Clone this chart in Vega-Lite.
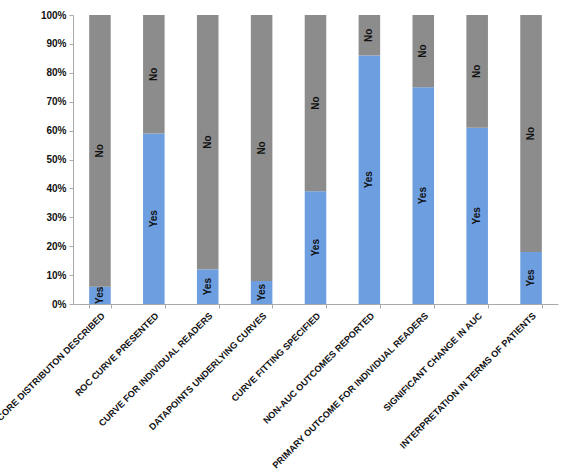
{
  "$schema": "https://vega.github.io/schema/vega-lite/v6.json",
  "width": 485,
  "height": 289,
  "autosize": {"type": "none"},
  "padding": {"left": 73, "top": 15, "right": 6, "bottom": 170},
  "background": "white",
  "config": {
    "view": {"stroke": null},
    "font": "Liberation Sans",
    "axisY": {
      "title": null,
      "format": ".0%",
      "values": [0, 0.1, 0.2, 0.3, 0.4, 0.5, 0.6, 0.7, 0.8, 0.9, 1],
      "labelFontSize": 10,
      "labelFontWeight": "bold",
      "labelColor": "#111",
      "labelPadding": 3,
      "labelOverlap": false,
      "labelFlush": false,
      "tickSize": 4,
      "tickColor": "#aaa",
      "domainColor": "#aaa",
      "grid": false
    }
  },
  "data": {
    "values": [
      {"item": "SCORE DISTRIBUTON DESCRIBED", "answer": "Yes", "pct": 6},
      {"item": "SCORE DISTRIBUTON DESCRIBED", "answer": "No", "pct": 94},
      {"item": "ROC CURVE PRESENTED", "answer": "Yes", "pct": 59},
      {"item": "ROC CURVE PRESENTED", "answer": "No", "pct": 41},
      {"item": "CURVE FOR INDIVIDUAL READERS", "answer": "Yes", "pct": 12},
      {"item": "CURVE FOR INDIVIDUAL READERS", "answer": "No", "pct": 88},
      {"item": "DATAPOINTS UNDERLYING CURVES", "answer": "Yes", "pct": 8},
      {"item": "DATAPOINTS UNDERLYING CURVES", "answer": "No", "pct": 92},
      {"item": "CURVE FITTING SPECIFIED", "answer": "Yes", "pct": 39},
      {"item": "CURVE FITTING SPECIFIED", "answer": "No", "pct": 61},
      {"item": "NON-AUC OUTCOMES REPORTED", "answer": "Yes", "pct": 86},
      {"item": "NON-AUC OUTCOMES REPORTED", "answer": "No", "pct": 14},
      {"item": "PRIMARY OUTCOME FOR INDIVIDUAL READERS", "answer": "Yes", "pct": 75},
      {"item": "PRIMARY OUTCOME FOR INDIVIDUAL READERS", "answer": "No", "pct": 25},
      {"item": "SIGNIFICANT CHANGE IN AUC", "answer": "Yes", "pct": 61},
      {"item": "SIGNIFICANT CHANGE IN AUC", "answer": "No", "pct": 39},
      {"item": "INTERPRETATION IN TERMS OF PATIENTS", "answer": "Yes", "pct": 18},
      {"item": "INTERPRETATION IN TERMS OF PATIENTS", "answer": "No", "pct": 82}
    ]
  },
  "transform": [
    {"stack": "pct", "groupby": ["item"], "sort": [{"field": "answer", "order": "descending"}], "offset": "normalize", "as": ["lo", "hi"]},
    {"calculate": "(datum.lo + datum.hi) / 2", "as": "mid"}
  ],
  "encoding": {
    "x": {
      "field": "item",
      "type": "nominal",
      "sort": null,
      "scale": {"paddingInner": 0.6, "paddingOuter": 0.3},
      "axis": {
        "title": null,
        "labelAngle": -45,
        "labelAlign": "right",
        "labelBaseline": "top",
        "labelFontSize": 9.2,
        "labelFontWeight": "bold",
        "labelColor": "#111",
        "labelLimit": 400,
        "labelPadding": 3,
        "labelOverlap": false,
        "tickBand": "extent",
        "tickSize": 4,
        "tickColor": "#aaa",
        "domainColor": "#aaa",
        "grid": false
      }
    }
  },
  "layer": [
    {
      "mark": {"type": "bar"},
      "encoding": {
        "y": {
          "field": "lo",
          "type": "quantitative",
          "title": null,
          "scale": {"domain": [0, 1], "nice": false}
        },
        "y2": {"field": "hi"},
        "color": {
          "field": "answer",
          "type": "nominal",
          "scale": {"domain": ["Yes", "No"], "range": ["#6d9ee0", "#8c8c8c"]},
          "legend": null
        }
      }
    },
    {
      "mark": {"type": "text", "angle": 270, "fontWeight": "bold", "fontSize": 10, "color": "#111", "align": "center", "baseline": "middle"},
      "encoding": {
        "y": {"field": "mid", "type": "quantitative", "title": null},
        "text": {"field": "answer"}
      }
    }
  ]
}
